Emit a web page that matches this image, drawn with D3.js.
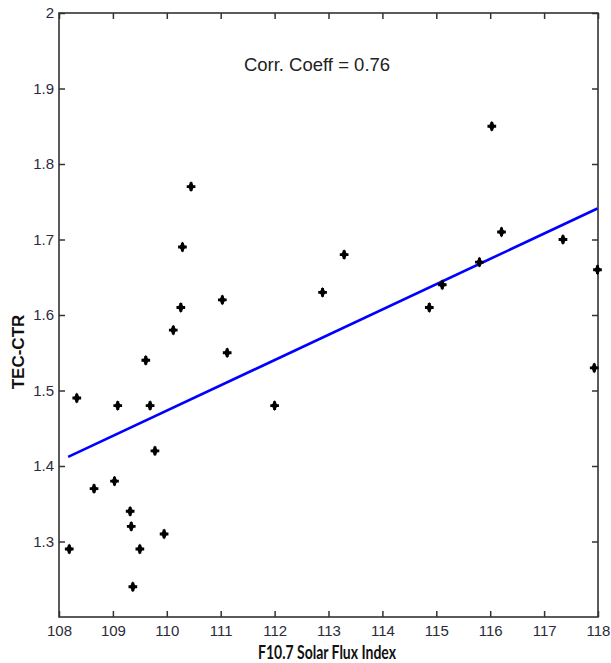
<!DOCTYPE html>
<html>
<head>
<meta charset="utf-8">
<script src="https://cdn.jsdelivr.net/npm/d3@7"></script>
<style>
  html, body { margin: 0; padding: 0; background: #fff; }
  svg text { font-family: Arial, "Liberation Sans", sans-serif; }
</style>
</head>
<body>
<div id="chart"></div>
<script>
// F10.7 vs TEC-CTR
const fluxValues = [108.19, 108.33, 108.65, 109.03, 109.09, 109.32, 109.34, 109.37, 109.50, 109.61,
  109.69, 109.78, 109.95, 110.12, 110.26, 110.29, 110.45, 111.03, 111.12, 112.00,
  112.89, 113.29, 114.87, 115.11, 115.80, 116.03, 116.21, 117.35, 117.93, 117.99]
const tecValues = [1.29, 1.49, 1.37, 1.38, 1.48, 1.34, 1.32, 1.24, 1.29, 1.54,
  1.48, 1.42, 1.31, 1.58, 1.61, 1.69, 1.77, 1.62, 1.55, 1.48,
  1.63, 1.68, 1.61, 1.64, 1.67, 1.85, 1.71, 1.70, 1.53, 1.66]
const fitX = [108.17, 117.99]
const fitY = [1.412, 1.741]
const xTicks = [108, 109, 110, 111, 112, 113, 114, 115, 116, 117, 118]
const yTicks = [1.3, 1.4, 1.5, 1.6, 1.7, 1.8, 1.9, 2]
const corrLabel = 'Corr. Coeff = 0.76'

const W = 611, H = 663
const m = {left: 59, right: 13, top: 13, bottom: 46}
const iw = W - m.left - m.right, ih = H - m.top - m.bottom

const svg = d3.select('#chart').append('svg').attr('width', W).attr('height', H)
const g = svg.append('g').attr('transform', `translate(${m.left},${m.top})`)

const x = d3.scaleLinear().domain([108, 118]).range([0, iw])
const y = d3.scaleLinear().domain([1.2, 2]).range([ih, 0])

const axisCol = '#333'
const tickLen = 6

function styleAxis(sel){
  sel.select('.domain').remove()
  sel.selectAll('line').attr('stroke', axisCol).attr('stroke-width', 1.5)
  sel.selectAll('text').attr('fill', '#2b2b3a').style('font-size', '15px')
}

// bottom / left with labels, ticks pointing inside
g.append('g').attr('transform', `translate(0,${ih})`)
  .call(d3.axisBottom(x).tickValues(xTicks).tickFormat(d3.format('d')).tickSizeInner(-tickLen).tickSizeOuter(0).tickPadding(8.5))
  .call(styleAxis)
g.append('g')
  .call(d3.axisLeft(y).tickValues(yTicks).tickFormat(d => d === 2 ? '2' : d3.format('.1f')(d)).tickSizeInner(-tickLen).tickSizeOuter(0).tickPadding(5))
  .call(styleAxis)
// top / right, ticks only
g.append('g')
  .call(d3.axisTop(x).tickValues(xTicks).tickFormat('').tickSizeInner(-tickLen).tickSizeOuter(0))
  .call(styleAxis)
g.append('g').attr('transform', `translate(${iw},0)`)
  .call(d3.axisRight(y).tickValues(yTicks).tickFormat('').tickSizeInner(-tickLen).tickSizeOuter(0))
  .call(styleAxis)

g.append('rect').attr('width', iw).attr('height', ih)
  .attr('fill', 'none').attr('stroke', axisCol).attr('stroke-width', 1.6)

// regression line
g.append('line')
  .attr('x1', x(fitX[0])).attr('y1', y(fitY[0]))
  .attr('x2', x(fitX[1])).attr('y2', y(fitY[1]))
  .attr('stroke', '#0000ff').attr('stroke-width', 2.6)

// markers
const pts = fluxValues.map((f, i) => ({f, t: tecValues[i]}))
const mk = g.append('g')
mk.selectAll('path.c').data(pts).join('path').attr('class', 'c')
  .attr('transform', d => `translate(${x(d.f)},${y(d.t)})`)
  .attr('d', d3.symbol(d3.symbolCross, 42))
  .attr('fill', '#000')
mk.selectAll('path.d').data(pts).join('path').attr('class', 'd')
  .attr('transform', d => `translate(${x(d.f)},${y(d.t)})`)
  .attr('d', d3.symbol(d3.symbolDiamond, 34))
  .attr('fill', '#000')

// annotation
g.append('text').attr('x', 317 - m.left).attr('y', 58)
  .attr('text-anchor', 'middle').attr('fill', '#222').style('font-size', '18.5px')
  .text(corrLabel)

// axis titles
svg.append('text').attr('x', 327).attr('y', 659)
  .attr('text-anchor', 'middle').attr('fill', '#111')
  .attr('textLength', 138).attr('lengthAdjust', 'spacingAndGlyphs')
  .style('font-family', 'Lato, "Open Sans", sans-serif').style('font-weight', 'bold').style('font-size', '19.5px')
  .text('F10.7 Solar Flux Index')
svg.append('text').attr('transform', 'translate(24,352) rotate(-90)')
  .attr('text-anchor', 'middle').attr('fill', '#111')
  .style('font-weight', 'bold').style('font-size', '17px')
  .text('TEC-CTR')
</script>
</body>
</html>
